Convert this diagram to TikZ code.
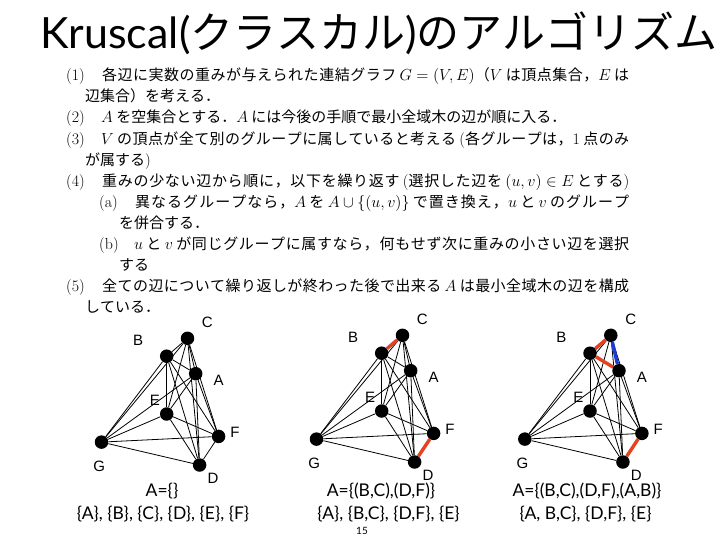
\RequirePackage{fix-cm}
\documentclass[tikz,border=0pt]{standalone}
\usepackage{fontspec}
\newfontfamily\jpfont[Scale=0.9375]{Noto Sans CJK JP}
\newfontfamily\jptitle{Noto Sans CJK JP}
\newfontfamily\labfont{Liberation Sans}
\newfontfamily\capfont{Lato}
\definecolor{tred}{RGB}{228,66,32}
\definecolor{tblue}{RGB}{28,58,212}
% stretchable glue between CJK characters, for justified lines
\XeTeXinterchartokenstate=1
\newcount\cjkcnt
\def\setcjk#1#2{\cjkcnt=#1\relax
  \loop\XeTeXcharclass\cjkcnt=200\relax\advance\cjkcnt by 1\relax\ifnum\cjkcnt<#2\repeat}
\setcjk{"3001}{"3100}
\setcjk{"4E00}{"A000}
\setcjk{"FF01}{"FF61}
\XeTeXinterchartoks 200 200 = {\hskip 0pt plus 1fil\relax}
\newcommand\jline[2]{\makebox[#1][s]{#2}}
\begin{document}
\begin{tikzpicture}[x=1pt,y=-1pt,
  body/.style={anchor=base west, inner sep=0pt, font=\fontsize{16}{19}\selectfont\jpfont},
  num/.style={anchor=base west, inner sep=0pt, font=\fontsize{16}{19}\selectfont\rmfamily},
  vtx/.style={circle, fill=black, inner sep=0pt, minimum size=13.5pt},
  vlab/.style={inner sep=0pt, font=\fontsize{15}{15}\selectfont\labfont},
  edge/.style={line width=0.8pt, black},
  redge/.style={line width=3.4pt, draw=tred},
  bedge/.style={line width=3.4pt, draw=tblue},
  capt/.style={anchor=base, inner sep=0pt, font=\fontsize{17.5}{17.5}\selectfont\capfont}]
\useasboundingbox (0,0) rectangle (728,546);

% title
\node[anchor=base west, inner sep=0pt, font=\fontsize{43}{43}\selectfont] (title) at (40,48)
  {{\capfont Kruscal(}{\jptitle クラスカル}{\capfont )}{\jptitle のアルゴリズム}};

% text block
\node[num] (n1) at (66,80.7) {(1)};
\node[body] (t1) at (102,80.7) {\jline{527pt}{各辺に実数の重みが与えられた連結グラフ $G=(V,E)$（$V$ は頂点集合，$E$ は}};
\node[body] (t2) at (85,101.8) {辺集合）を考える．};
\node[num] (n2) at (66,122.9) {(2)};
\node[body] (t3) at (101,122.9) {$A$ を空集合とする．$A$ には今後の手順で最小全域木の辺が順に入る．};
\node[num] (n3) at (66,144) {(3)};
\node[body] (t4) at (101,144) {\jline{528pt}{$V$ の頂点が全て別のグループに属していると考える {\rmfamily(}各グループは，{\rmfamily 1} 点のみ}};
\node[body] (t5) at (85,165.1) {が属する{\rmfamily)}};
\node[num] (n4) at (66,186.2) {(4)};
\node[body] (t6) at (102,186.2) {\jline{527pt}{重みの少ない辺から順に，以下を繰り返す {\rmfamily(}選択した辺を $(u,v)\in E$ とする{\rmfamily)}}};
\node[num] (na) at (99,207.3) {(a)};
\node[body] (t7) at (135,207.3) {\jline{494pt}{異なるグループなら，$A$ を $A\cup\{(u,v)\}$ で置き換え，$u$ と $v$ のグループ}};
\node[body] (t8) at (119,228.4) {を併合する．};
\node[num] (nb) at (99,249.5) {(b)};
\node[body] (t9) at (134,249.5) {\jline{495pt}{$u$ と $v$ が同じグループに属すなら，何もせず次に重みの小さい辺を選択}};
\node[body] (t10) at (119,270.6) {する};
\node[num] (n5) at (66,291.7) {(5)};
\node[body] (t11) at (102,291.7) {\jline{527pt}{全ての辺について繰り返しが終わった後で出来る $A$ は最小全域木の辺を構成}};
\node[body] (t12) at (85,312.8) {している．};

% graphs
\foreach \g/\dx/\dy in {1/0/0, 2/215/-3, 3/423.3/-3} {
  \begin{scope}[shift={(\dx,\dy)}]
    \node[vtx] (g\g A) at (195.7,373.7) {};
    \node[vtx] (g\g B) at (166.7,356.2) {};
    \node[vtx] (g\g C) at (187.5,338.3) {};
    \node[vtx] (g\g D) at (199.6,465) {};
    \node[vtx] (g\g E) at (166.7,414) {};
    \node[vtx] (g\g F) at (218.6,436.4) {};
    \node[vtx] (g\g G) at (101.5,442.1) {};
    \node[vlab] (g\g lA) at (218.6,380.7) {A};
    \node[vlab] (g\g lB) at (138.1,340.7) {B};
    \node[vlab] (g\g lC) at (207.4,322.2) {C};
    \node[vlab] (g\g lD) at (213.1,478.2) {D};
    \node[vlab] (g\g lE) at (155,400.4) {E};
    \node[vlab] (g\g lF) at (235,432.1) {F};
    \node[vlab] (g\g lG) at (99.1,466.2) {G};
  \end{scope}
  \foreach \u/\v in {A/B,A/C,A/D,A/E,A/F,A/G,B/C,B/D,B/E,B/F,B/G,C/D,C/E,C/F,C/G,D/E,D/F,D/G,E/F,E/G,F/G}
    \draw[edge] (g\g\u) -- (g\g\v);
}
\draw[redge] (g2B) -- (g2C);
\draw[redge] (g2D) -- (g2F);
\draw[redge] (g3B) -- (g3C);
\draw[redge] (g3D) -- (g3F);
\draw[redge] (g3A) -- (g3B);
\draw[bedge] (g3C) -- (g3A);

% captions
\node[capt] (c1a) at (162,496) {A=\{\}};
\node[capt] (c1b) at (163,519) {\{A\}, \{B\}, \{C\}, \{D\}, \{E\}, \{F\}};
\node[capt] (c2a) at (381,496) {A=\{(B,C),(D,F)\}};
\node[capt] (c2b) at (388.5,519) {\{A\}, \{B,C\}, \{D,F\}, \{E\}};
\node[capt] (c3a) at (587,496) {A=\{(B,C),(D,F),(A,B)\}};
\node[capt] (c3b) at (585.5,519) {\{A, B,C\}, \{D,F\}, \{E\}};
\node[inner sep=0pt, font=\fontsize{10}{10}\selectfont\capfont] (pg) at (362,531) {15};
\end{tikzpicture}
\end{document}
